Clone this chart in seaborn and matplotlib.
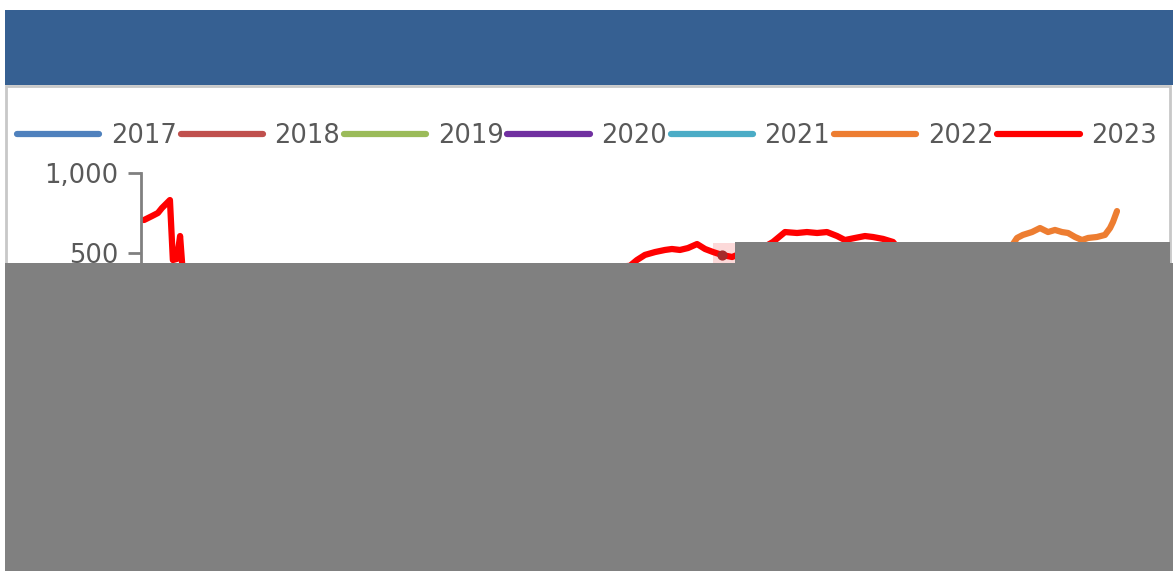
"""Weekly price chart, 2017-2023 (only 2022 and 2023 are visible above the overlay)."""

import matplotlib

matplotlib.use("Agg")
import matplotlib.pyplot as plt
import pandas as pd
import seaborn as sns
from matplotlib.lines import Line2D
from matplotlib.patches import Rectangle

W, H = 1173, 571

YEARS = ["2017", "2018", "2019", "2020", "2021", "2022", "2023"]
COLORS = ["#4F81BD", "#C0504D", "#9BBB59", "#7030A0", "#4BACC6", "#ED7D31", "#FF0000"]

# day of year / value (parts under the grey overlay are rough guesses)
days_2023 = [1, 4, 6.2, 7.7, 10.7, 11.8, 13.3, 14.5, 16, 60, 120, 182.8,
             185.4, 188.4, 192.2, 195.9, 198.5, 201.5, 204.5, 207.9, 210.9, 213.9,
             217.2, 221, 227.7, 233.3, 236.3, 240.8, 245.3, 249, 252.8, 256.5,
             260.3, 263.2, 267, 270.7, 273.7, 277.5, 281.2, 284.5]
vals_2023 = [706, 731, 750, 781, 831, 456, 463, 606, 269, 300, 330, 420,
             456, 488, 506, 519, 525, 519, 531, 556, 525, 506,
             488, 475, 520, 540, 569, 631, 625, 631, 625, 631,
             606, 581, 594, 606, 600, 588, 569, 500]
days_2022 = [300, 323.1, 327.6, 329.8, 333.2, 336.2, 339.2, 341.8, 344.4, 346.7,
             349.3, 351.9, 354.2, 357.5, 360.5, 362.4, 363.5, 365]
vals_2022 = [400, 481, 594, 613, 631, 656, 631, 644, 631, 625,
             600, 581, 594, 600, 613, 656, 694, 762]
highlight_day, highlight_val = 217.2, 488  # hovered point


def px(x0, y0, x1, y1):
    """Figure-fraction box from pixel corners (top-left origin)."""
    return [x0 / W, 1 - y1 / H, (x1 - x0) / W, (y1 - y0) / H]


df = pd.concat([
    pd.DataFrame({"day": days_2022, "value": vals_2022, "year": "2022"}),
    pd.DataFrame({"day": days_2023, "value": vals_2023, "year": "2023"}),
])

sns.set_style("white")
plt.rcParams["font.family"] = ["DejaVu Sans"]
fig = plt.figure(figsize=(W / 100, H / 100), dpi=100)

# panel and header banner
fig.add_artist(Rectangle((6 / W, 0), 1164 / W, 1 - 86 / H, transform=fig.transFigure,
                         facecolor="white", edgecolor="#C8C8C8", linewidth=2, zorder=0))
fig.add_artist(Rectangle((5 / W, 1 - 85 / H), 1168 / W, 75 / H, transform=fig.transFigure,
                         facecolor="#366092", edgecolor="none", zorder=1))

ax = fig.add_axes(px(141, 173, 1120, 333))
ax.patch.set_alpha(0)
x_pad = 3 / 2.673
ax.set_xlim(1 - x_pad, 365 + x_pad)
ax.set_ylim(0, 1000)

# hover highlight behind the hovered point
ax.add_patch(Rectangle((highlight_day - 3.3, 437), 8.2, 125, facecolor="#FCD9D9",
                       edgecolor="none", zorder=1))
sns.lineplot(data=df, x="day", y="value", hue="year", palette={"2022": COLORS[5], "2023": COLORS[6]},
             estimator=None, linewidth=4.5, ax=ax, legend=False, zorder=2)
ax.scatter([highlight_day], [highlight_val], s=40, color="#A52A2A", zorder=3)

ax.set_yticks([500, 1000])
ax.set_yticklabels(["500", "1,000"])
ax.set_xticks([])
ax.set_xlabel("")
ax.set_ylabel("")
for side in ["top", "right", "bottom"]:
    ax.spines[side].set_visible(False)
ax.spines["left"].set_color("#808080")
ax.spines["left"].set_linewidth(2)
ax.tick_params(axis="y", direction="out", length=9.5, width=2, color="#808080",
               labelsize=18.5, labelcolor="#595959", pad=7, left=True)

handles = [Line2D([], [], color=c, linewidth=4.5, solid_capstyle="round") for c in COLORS]
fig.legend(handles, YEARS, loc="center", bbox_to_anchor=(587 / W, 1 - 136 / H), ncol=7,
           frameon=False, fontsize=18.5, labelcolor="#595959", handlelength=3.2,
           handletextpad=0.45, columnspacing=0.15)

# grey overlay boxes
fig.add_artist(Rectangle((735 / W, 1 - 263 / H), 435 / W, 21 / H, transform=fig.transFigure,
                         facecolor="#808080", edgecolor="none", zorder=20))
fig.add_artist(Rectangle((5 / W, 0), 1168 / W, 1 - 263 / H, transform=fig.transFigure,
                         facecolor="#808080", edgecolor="none", zorder=20))

fig.savefig("out.png", dpi=100)
